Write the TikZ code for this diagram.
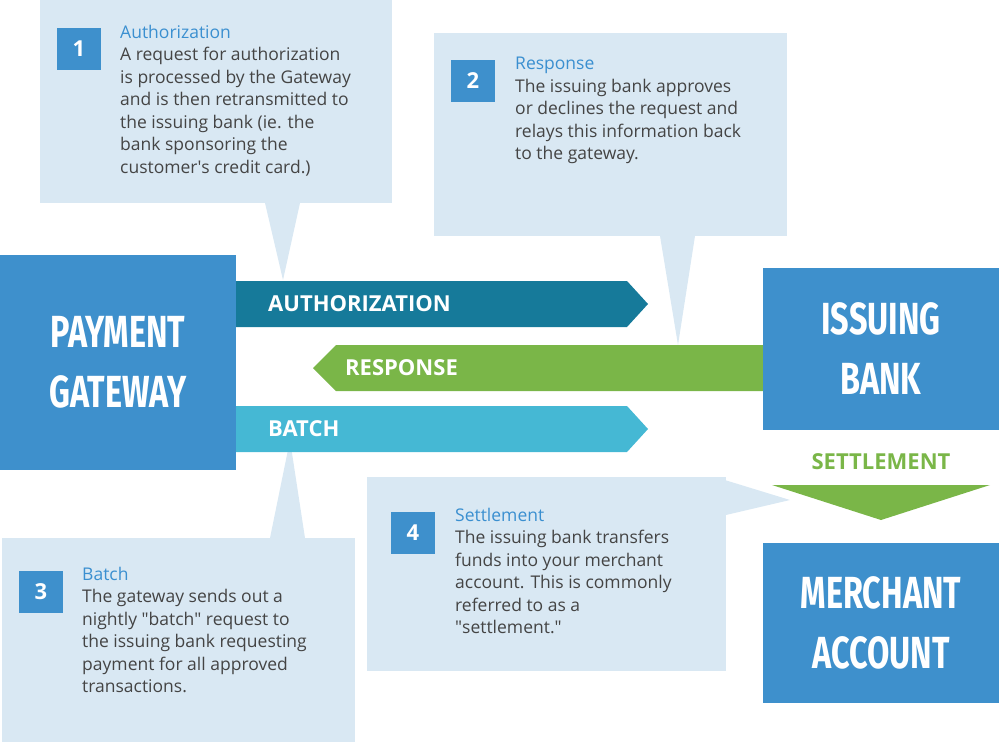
\documentclass[tikz,border=0pt]{standalone}
\usepackage{fontspec}
\setmainfont{Open Sans}
\newfontfamily\bigf{Fira Sans}
\definecolor{callout}{HTML}{D9E8F3}
\definecolor{boxblue}{HTML}{3E90CC}
\definecolor{titleblue}{HTML}{3A8FD0}
\definecolor{auth}{HTML}{167A9A}
\definecolor{resp}{HTML}{7AB648}
\definecolor{batch}{HTML}{45B8D4}
\definecolor{txt}{HTML}{444444}
\begin{document}
\begin{tikzpicture}[x=1pt,y=-1pt,
  co/.style={fill=callout,draw=none},
  num/.style={fill=boxblue,text=white,minimum width=44pt,minimum height=42pt,inner sep=0,font=\fontsize{22}{22}\selectfont\bfseries},
  ttl/.style={anchor=north west,inner sep=0,text=titleblue,font=\fontsize{17.5}{20}\selectfont},
  body/.style={anchor=north west,inner sep=0,text=txt,align=left,font=\fontsize{17.5}{22.5}\selectfont},
  big/.style={fill=boxblue,text=white,inner sep=0,align=center,font=\bigf\bfseries\fontsize{45}{60}\selectfont},
  arl/.style={text=white,anchor=west,inner sep=0,font=\fontsize{22}{22}\selectfont\bfseries}]
\useasboundingbox (0,0) rectangle (999,744);
% callouts
\fill[callout] (40,0) rectangle (392,203);
\fill[callout] (265,203) -- (283,280) -- (300,203) -- cycle;
\fill[callout] (434,33) rectangle (787,236);
\fill[callout] (660,236) -- (678,345) -- (695,236) -- cycle;
\fill[callout] (2,538) rectangle (355,742);
\fill[callout] (270,538) -- (290,440) -- (305,538) -- cycle;
\fill[callout] (367,477) rectangle (726,671);
\fill[callout] (715,477) -- (790,500) -- (726,515) -- cycle;
% numbers and texts
\node[num] (n1) at (79,49) {1};
\node[ttl] (t1) at (120,25) {Authorization};
\node[body] (b1) at (120,47) {A request for authorization\\is processed by the Gateway\\and is then retransmitted to\\the issuing bank (ie. the\\bank sponsoring the\\customer\textquotesingle s credit card.)};
\node[num] (n2) at (473,81) {2};
\node[ttl] (t2) at (515,57) {Response};
\node[body] (b2) at (515,79) {The issuing bank approves\\or declines the request and\\relays this information back\\to the gateway.};
\node[num] (n3) at (41,592) {3};
\node[ttl] (t3) at (82,567) {Batch};
\node[body] (b3) at (82,589) {The gateway sends out a\\nightly \textquotedbl batch\textquotedbl\ request to\\the issuing bank requesting\\payment for all approved\\transactions.};
\node[num] (n4) at (413,533) {4};
\node[ttl] (t4) at (455,508) {Settlement};
\node[body] (b4) at (455,530) {The issuing bank transfers\\funds into your merchant\\account. This is commonly\\referred to as a\\\textquotedbl settlement.\textquotedbl};
% arrows
\fill[auth] (236,281) -- (627,281) -- (648,304) -- (627,327) -- (236,327) -- cycle;
\node[arl] (la) at (268,304) {AUTHORIZATION};
\fill[resp] (763,345) -- (336,345) -- (313,368) -- (336,391) -- (763,391) -- cycle;
\node[arl] (lr) at (345,368) {RESPONSE};
\fill[batch] (236,406) -- (627,406) -- (648,429) -- (627,452) -- (236,452) -- cycle;
\node[arl] (lb) at (268,429) {BATCH};
% big boxes
\node[big,minimum width=236pt,minimum height=215pt] (pg) at (118,362.5) {\scalebox{0.72}[1]{PAYMENT}\\\scalebox{0.72}[1]{GATEWAY}};
\node[big,minimum width=236pt,minimum height=162pt] (ib) at (881,349) {\scalebox{0.72}[1]{ISSUING}\\\scalebox{0.72}[1]{BANK}};
\node[big,minimum width=236pt,minimum height=160pt] (ma) at (881,623) {\scalebox{0.72}[1]{MERCHANT}\\\scalebox{0.72}[1]{ACCOUNT}};
\node[text=resp,inner sep=0,font=\fontsize{22}{22}\selectfont\bfseries] (ls) at (881,462) {SETTLEMENT};
\fill[resp] (772,485) -- (990,485) -- (881,520) -- cycle;
\end{tikzpicture}
\end{document}
